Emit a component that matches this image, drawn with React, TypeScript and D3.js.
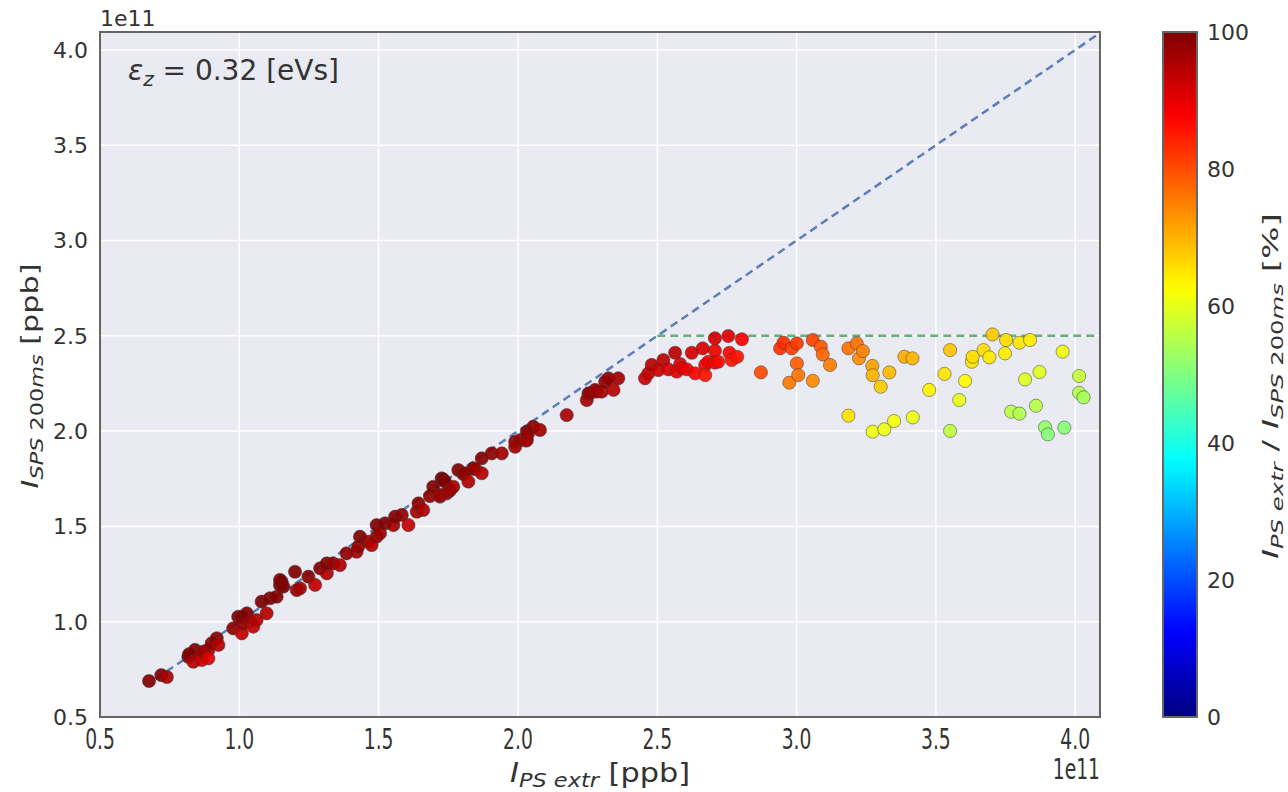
import React from "react";
import * as d3 from "d3";

const ipsExtr: number[] = [
  0.676, 0.72, 0.74, 0.817, 0.82, 0.841, 0.835, 0.859, 0.865, 0.871, 0.889, 0.889, 0.901, 0.919, 0.925,
  0.978, 0.996, 1.009, 1.009, 1.014, 1.027, 1.038, 1.05, 1.062, 1.08, 1.098, 1.11, 1.134, 1.146, 1.152,
  1.146, 1.158, 1.2, 1.206, 1.218, 1.248, 1.272, 1.29, 1.314, 1.314, 1.337, 1.361, 1.385, 1.421, 1.427,
  1.433, 1.463, 1.475, 1.493, 1.493, 1.505, 1.523, 1.553, 1.559, 1.583, 1.607, 1.637, 1.643, 1.66, 1.684,
  1.696, 1.72, 1.726, 1.72, 1.732, 1.738, 1.744, 1.754, 1.756, 1.768, 1.786, 1.804, 1.81, 1.822, 1.84,
  1.847, 1.87, 1.87, 1.906, 1.942, 1.99, 1.99, 2.008, 2.029, 2.032, 2.032, 2.037, 2.055, 2.079, 2.175,
  2.247, 2.253, 2.259, 2.277, 2.283, 2.301, 2.313, 2.325, 2.343, 2.36, 2.456, 2.468, 2.48, 2.504, 2.522,
  2.54, 2.564, 2.57, 2.582, 2.588, 2.606, 2.624, 2.636, 2.663, 2.672, 2.672, 2.683, 2.707, 2.707, 2.707,
  2.719, 2.755, 2.759, 2.767, 2.787, 2.804, 2.872, 2.941, 2.953, 2.974, 2.983, 3.001, 3.001, 3.006, 3.058,
  3.058, 3.087, 3.094, 3.12, 3.186, 3.186, 3.216, 3.224, 3.238, 3.272, 3.273, 3.273, 3.302, 3.315, 3.333,
  3.35, 3.387, 3.416, 3.417, 3.476, 3.531, 3.551, 3.551, 3.584, 3.605, 3.629, 3.632, 3.671, 3.692, 3.703,
  3.748, 3.752, 3.77, 3.8, 3.8, 3.82, 3.838, 3.859, 3.872, 3.892, 3.902, 3.955, 3.961, 4.014, 4.014, 4.03,
];

const isps200ms: number[] = [
  0.689, 0.72, 0.71, 0.816, 0.83, 0.852, 0.79, 0.825, 0.799, 0.843, 0.852, 0.808, 0.887, 0.913, 0.878,
  0.965, 1.026, 0.939, 1.026, 0.99, 1.044, 1.0, 0.974, 1.009, 1.105, 1.044, 1.123, 1.131, 1.193, 1.21,
  1.219, 1.184, 1.262, 1.166, 1.175, 1.236, 1.193, 1.28, 1.254, 1.306, 1.306, 1.297, 1.359, 1.367, 1.394,
  1.446, 1.42, 1.402, 1.446, 1.507, 1.464, 1.516, 1.507, 1.551, 1.56, 1.507, 1.577, 1.621, 1.586, 1.659,
  1.708, 1.656, 1.752, 1.665, 1.747, 1.735, 1.673, 1.686, 1.691, 1.708, 1.796, 1.775, 1.779, 1.735, 1.805,
  1.8, 1.779, 1.857, 1.883, 1.883, 1.944, 1.918, 1.953, 1.95, 1.953, 1.997, 1.988, 2.023, 2.006, 2.084,
  2.163, 2.198, 2.198, 2.216, 2.207, 2.207, 2.259, 2.277, 2.216, 2.277, 2.277, 2.303, 2.347, 2.32, 2.373,
  2.324, 2.411, 2.312, 2.352, 2.329, 2.324, 2.411, 2.303, 2.434, 2.347, 2.294, 2.364, 2.487, 2.422, 2.359,
  2.364, 2.499, 2.411, 2.373, 2.39, 2.482, 2.308, 2.434, 2.464, 2.254, 2.434, 2.46, 2.355, 2.294, 2.478,
  2.264, 2.443, 2.402, 2.347, 2.434, 2.081, 2.46, 2.382, 2.42, 2.342, 2.293, 1.997, 2.233, 2.009, 2.308,
  2.053, 2.39, 2.382, 2.072, 2.216, 2.3, 2.425, 2.001, 2.163, 2.263, 2.364, 2.39, 2.425, 2.387, 2.507,
  2.408, 2.478, 2.102, 2.092, 2.464, 2.271, 2.478, 2.133, 2.31, 2.02, 1.983, 2.417, 2.018, 2.289, 2.201, 2.177,
];

const axisTicks: number[] = [0.5, 1.0, 1.5, 2.0, 2.5, 3.0, 3.5, 4.0];
const cbarTicks: number[] = [0, 20, 40, 60, 80, 100];
const saturation: number = 2.5;
const diagRange: number[] = [0.7, 4.1];

const L = 100, R = 1100, T = 32, B = 717;
const TXT = "#333";

function jet(t: number): string {
  const c = (v: number) => Math.max(0, Math.min(1, v));
  const r = c(1.5 - Math.abs(4 * t - 3));
  const g = c(1.5 - Math.abs(4 * t - 2));
  const b = c(1.5 - Math.abs(4 * t - 1));
  return d3.rgb(r * 255, g * 255, b * 255).formatHex();
}

export default function App() {
  const x = d3.scaleLinear().domain([0.5, 4.089]).range([L, R]);
  const y = d3.scaleLinear().domain([0.5, 4.094]).range([B, T]);
  const cs = d3.scaleLinear().domain([0, 100]).range([B, T]);
  const pts = ipsExtr.map((v, i) => ({ x: v, y: isps200ms[i], c: Math.min(100, (isps200ms[i] / v) * 100) }));
  const stops = d3.range(0, 1.0001, 0.02);
  const fmt = d3.format(".1f");

  return (
    <svg width={1288} height={792} style={{ position: "absolute", left: 0, top: 0, fontFamily: "DejaVu Sans" }}>
      <defs>
        <clipPath id="plotclip">
          <rect x={L} y={T} width={R - L} height={B - T} />
        </clipPath>
        <linearGradient id="jetgrad" x1="0" y1="1" x2="0" y2="0">
          {stops.map((s, i) => (
            <stop key={i} offset={s} stopColor={jet(s)} />
          ))}
        </linearGradient>
      </defs>
      <rect x={0} y={0} width={1288} height={792} fill="#fff" />
      <rect x={L} y={T} width={R - L} height={B - T} fill="#EAEAF2" />
      {axisTicks.map((t) => (
        <line key={"gx" + t} x1={x(t)} x2={x(t)} y1={T} y2={B} stroke="#fff" strokeWidth={1.5} />
      ))}
      {axisTicks.map((t) => (
        <line key={"gy" + t} x1={L} x2={R} y1={y(t)} y2={y(t)} stroke="#fff" strokeWidth={1.5} />
      ))}
      <g clipPath="url(#plotclip)">
        <line x1={x(diagRange[0])} y1={y(diagRange[0])} x2={x(diagRange[1])} y2={y(diagRange[1])}
          stroke="#4C72B0" strokeOpacity={0.9} strokeWidth={2.5} strokeDasharray="8,5" />
        <line x1={x(saturation)} y1={y(saturation)} x2={x(diagRange[1])} y2={y(saturation)}
          stroke="#55A868" strokeOpacity={0.9} strokeWidth={2.5} strokeDasharray="8,5" />
        {pts.map((p, i) => (
          <circle key={i} cx={x(p.x)} cy={y(p.y)} r={6.6} fill={jet(p.c / 100)} fillOpacity={0.92}
            stroke="#3a3a3a" strokeOpacity={0.5} strokeWidth={1} />
        ))}
      </g>
      <rect x={L} y={T} width={R - L} height={B - T} fill="none" stroke="#666" strokeWidth={2} />
      {axisTicks.map((t) => (
        <text key={"ty" + t} x={88} y={y(t)} dy="0.36em" textAnchor="end" fontSize={22} fill={TXT}>{fmt(t)}</text>
      ))}
      {axisTicks.map((t) => (
        <g key={"tx" + t} transform={`translate(${x(t)},${749}) scale(0.85,1.3)`}>
          <text x={0} y={0} textAnchor="middle" fontSize={22} fill={TXT}>{fmt(t)}</text>
        </g>
      ))}
      <text x={100} y={26} fontSize={22} fill={TXT}>1e11</text>
      <g transform={`translate(${R},${779}) scale(0.85,1.3)`}>
        <text x={0} y={0} textAnchor="end" fontSize={22} fill={TXT}>1e11</text>
      </g>
      <text x={128} y={80} fontSize={28} fill={TXT}>
        <tspan fontStyle="italic">ε</tspan>
        <tspan fontStyle="italic" fontSize={20} dy={6}>z</tspan>
        <tspan dy={-6}> = 0.32 [eVs]</tspan>
      </text>
      <g transform={`translate(${600},${782}) scale(1,1.15)`}>
        <text x={0} y={0} textAnchor="middle" fontSize={23} fill={TXT} textLength={180} lengthAdjust="spacingAndGlyphs">
          <tspan fontStyle="italic">I</tspan>
          <tspan fontStyle="italic" fontSize={17} dy={4}>PS extr</tspan>
          <tspan dy={-4}> [ppb]</tspan>
        </text>
      </g>
      <g transform={`translate(${38},${376}) rotate(-90)`}>
        <text x={0} y={0} textAnchor="middle" fontSize={23} fill={TXT} textLength={225} lengthAdjust="spacingAndGlyphs">
          <tspan fontStyle="italic">I</tspan>
          <tspan fontStyle="italic" fontSize={17} dy={5}>SPS </tspan>
          <tspan fontSize={17}>200</tspan>
          <tspan fontStyle="italic" fontSize={17}>ms</tspan>
          <tspan dy={-5}> [ppb]</tspan>
        </text>
      </g>
      <rect x={1163} y={T} width={34} height={B - T} fill="url(#jetgrad)" stroke="#666" strokeWidth={2} />
      {cbarTicks.map((t) => (
        <text key={"ct" + t} x={1207} y={cs(t)} dy="0.36em" fontSize={22} fill={TXT}>{t}</text>
      ))}
      <g transform={`translate(${1278},${386}) rotate(-90) scale(1,0.9)`}>
        <text x={0} y={0} textAnchor="middle" fontSize={24} fill={TXT} textLength={346} lengthAdjust="spacingAndGlyphs">
          <tspan fontStyle="italic">I</tspan>
          <tspan fontStyle="italic" fontSize={17} dy={5}>PS extr</tspan>
          <tspan dy={-5}> / </tspan>
          <tspan fontStyle="italic">I</tspan>
          <tspan fontStyle="italic" fontSize={17} dy={5}>SPS </tspan>
          <tspan fontSize={17}>200</tspan>
          <tspan fontStyle="italic" fontSize={17}>ms</tspan>
          <tspan dy={-5}> [%]</tspan>
        </text>
      </g>
    </svg>
  );
}
